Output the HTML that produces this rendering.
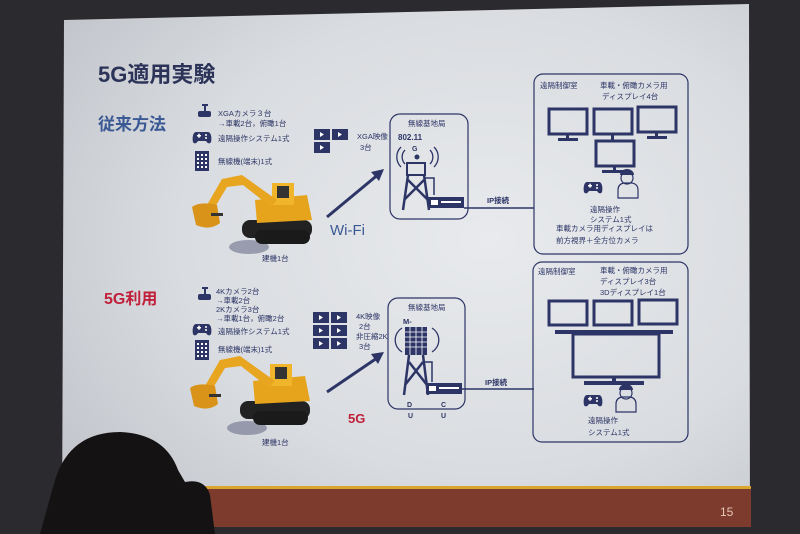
<!DOCTYPE html>
<html><head><meta charset="utf-8"><style>
html,body{margin:0;padding:0;width:800px;height:534px;overflow:hidden;background:#2b2a2e;}
svg{display:block}
text{font-family:"Liberation Sans","Noto Sans CJK JP",sans-serif;}
</style></head><body>
<svg width="800" height="534" viewBox="0 0 800 534" xmlns="http://www.w3.org/2000/svg">
<defs>
<radialGradient id="bg" cx="0.62" cy="0.45" r="0.75">
<stop offset="0" stop-color="#e8eaed"/><stop offset="0.6" stop-color="#d9dce0"/><stop offset="1" stop-color="#c2c5cb"/>
</radialGradient>
<g id="vid"><rect x="0" y="0" width="16" height="11" fill="#2d3566"/><polygon points="6,3 6,8 10,5.5" fill="#fff"/></g>
<g id="cam"><rect x="6" y="0" width="6" height="2" fill="#2d3566"/><rect x="8" y="2" width="2" height="5" fill="#2d3566"/><rect x="2" y="7" width="13" height="6" rx="2" fill="#2d3566"/></g>
<g id="pad"><path d="M3,2 h12 c3,0 4,6 3,10 c-1,2 -3,2 -5,-1 h-8 c-2,3 -4,3 -5,1 c-1,-4 0,-10 3,-10z" fill="#2d3566"/><rect x="4" y="5" width="4" height="1.5" fill="#fff"/><rect x="5.3" y="3.7" width="1.5" height="4" fill="#fff"/><circle cx="13" cy="5" r="1" fill="#fff"/><circle cx="13" cy="8" r="1" fill="#fff"/></g>
<g id="phone"><rect x="0" y="0" width="14" height="20" fill="#2d3566"/>
<g fill="#fff"><rect x="2" y="3" width="2" height="2"/><rect x="6" y="3" width="2" height="2"/><rect x="10" y="3" width="2" height="2"/><rect x="2" y="7" width="2" height="2"/><rect x="6" y="7" width="2" height="2"/><rect x="10" y="7" width="2" height="2"/><rect x="2" y="11" width="2" height="2"/><rect x="6" y="11" width="2" height="2"/><rect x="10" y="11" width="2" height="2"/><rect x="2" y="15" width="2" height="2"/><rect x="6" y="15" width="2" height="2"/><rect x="10" y="15" width="2" height="2"/></g></g>
<g id="exc">
<ellipse cx="62" cy="72" rx="20" ry="7" fill="#6a6f8a" opacity="0.6"/>
<rect x="55" y="45" width="70" height="18" rx="8" fill="#222"/>
<rect x="68" y="55" width="55" height="14" rx="7" fill="#1a1a1a"/>
<polygon points="68,25 120,20 125,45 70,48" fill="#e6a41d"/>
<rect x="85" y="8" width="22" height="22" fill="#f0b52a"/>
<rect x="90" y="11" width="12" height="12" fill="#333"/>
<polygon points="90,25 55,0 35,4 20,30 28,32 40,12 56,10 84,32" fill="#e8a520"/>
<path d="M5,32 q8,-6 25,-2 l3,18 q-10,8 -24,2z" fill="#d89318"/>
<rect x="24" y="38" width="12" height="3" fill="#333"/>
</g>
</defs>
<polygon points="64,20 749,4 750,527 62,527" fill="url(#bg)"/>
<rect x="62" y="486" width="689" height="3" fill="#d9a52e"/>
<rect x="62" y="489" width="689" height="38" fill="#7c3b2c"/>
<text x="720" y="516" font-size="12" fill="#e8c7b8">15</text>

<text x="98" y="82" font-size="22" font-weight="bold" fill="#2c3358">5G適用実験</text>
<text x="98" y="130" font-size="17" font-weight="bold" fill="#3b5a95">従来方法</text>
<text x="104" y="304" font-size="16" font-weight="bold" fill="#c0203a">5G利用</text>

<use href="#cam" x="196" y="104"/>
<text x="218" y="116" font-size="7.5" fill="#2d3566">XGAカメラ３台</text>
<text x="218" y="126" font-size="7.5" fill="#2d3566">→車載2台，俯瞰1台</text>
<use href="#pad" x="193" y="130"/>
<text x="218" y="141" font-size="7.5" fill="#2d3566">遠隔操作システム1式</text>
<use href="#phone" x="195" y="151"/>
<text x="218" y="164" font-size="7.5" fill="#2d3566">無線機(端末)1式</text>
<use href="#exc" x="187" y="175"/>
<text x="262" y="261" font-size="7.5" fill="#2d3566">建機1台</text>

<use href="#vid" x="314" y="129"/><use href="#vid" x="332" y="129"/><use href="#vid" x="314" y="142"/>
<text x="357" y="139" font-size="7.5" fill="#2d3566">XGA映像</text>
<text x="360" y="150" font-size="7.5" fill="#2d3566">3台</text>
<line x1="327" y1="217" x2="380" y2="173" stroke="#2d3566" stroke-width="3"/>
<polygon points="384,169 371,172 379,181" fill="#2d3566"/>
<text x="330" y="235" font-size="15" fill="#3b5a95">Wi-Fi</text>

<rect x="390" y="114" width="78" height="105" rx="10" fill="none" stroke="#2d3566" stroke-width="1.2"/>
<text x="408" y="126" font-size="7.5" fill="#2d3566">無線基地局</text>
<text x="398" y="140" font-size="8" font-weight="bold" fill="#2d3566">802.11</text>
<text x="412" y="151" font-size="7" font-weight="bold" fill="#2d3566">G</text>
<path d="M405,150 a10,10 0 0 0 0,14 M430,150 a10,10 0 0 1 0,14 M401,147 a14,14 0 0 0 0,20 M434,147 a14,14 0 0 1 0,20" stroke="#2d3566" stroke-width="1.3" fill="none"/>
<circle cx="417" cy="157" r="2.5" fill="#2d3566"/>
<rect x="407" y="163" width="18" height="12" fill="none" stroke="#2d3566" stroke-width="2"/>
<path d="M408,175 L403,210 M424,175 L429,210 M408,180 L428,200 M424,180 L404,200" stroke="#2d3566" stroke-width="2.5"/>
<path d="M425,178 h9 v17" stroke="#2d3566" stroke-width="1.5" fill="none"/>
<rect x="428" y="197" width="36" height="11" fill="#2d3566"/><rect x="431" y="200" width="7" height="5" fill="#fff"/><rect x="441" y="201" width="20" height="2" fill="#fff"/>
<line x1="464" y1="208" x2="534" y2="208" stroke="#2d3566" stroke-width="1.5"/>
<text x="487" y="203" font-size="7.5" font-weight="bold" fill="#2d3566">IP接続</text>

<rect x="534" y="74" width="154" height="180" rx="9" fill="none" stroke="#2d3566" stroke-width="1.2"/>
<text x="540" y="88" font-size="7.5" fill="#2d3566">遠隔制御室</text>
<text x="600" y="88" font-size="7.5" fill="#2d3566">車載・俯瞰カメラ用</text>
<text x="602" y="99" font-size="7.5" fill="#2d3566">ディスプレイ4台</text>
<g fill="none" stroke="#2d3566" stroke-width="3">
<rect x="549" y="109" width="38" height="25"/><rect x="594" y="109" width="38" height="25"/><rect x="638" y="107" width="38" height="25"/>
<rect x="596" y="141" width="38" height="25"/></g>
<g fill="#2d3566"><rect x="566" y="134" width="3" height="5"/><rect x="558" y="138" width="20" height="3"/><rect x="655" y="132" width="3" height="5"/><rect x="647" y="136" width="20" height="3"/><rect x="613" y="166" width="3" height="5"/><rect x="602" y="170" width="26" height="3"/><rect x="611" y="134" width="3" height="7"/></g>
<use href="#pad" x="584" y="180"/>
<path d="M618,198 v-8 q0,-6 6,-7 l8,0 q6,1 6,7 v8z" fill="none" stroke="#2d3566" stroke-width="1.2"/>
<circle cx="627" cy="178" r="6" fill="none" stroke="#2d3566" stroke-width="1.2"/><path d="M620,175 a7,6 0 0 1 14,0z" fill="#2d3566"/>
<text x="590" y="212" font-size="7.5" fill="#2d3566">遠隔操作</text>
<text x="590" y="222" font-size="7.5" fill="#2d3566">システム1式</text>
<text x="556" y="231" font-size="7.5" fill="#2d3566">車載カメラ用ディスプレイは</text>
<text x="556" y="243" font-size="7.5" fill="#2d3566">前方視界＋全方位カメラ</text>

<use href="#cam" x="196" y="287"/>
<text x="216" y="294" font-size="7.5" fill="#2d3566">4Kカメラ2台</text>
<text x="216" y="303" font-size="7.5" fill="#2d3566">→車載2台</text>
<text x="216" y="312" font-size="7.5" fill="#2d3566">2Kカメラ3台</text>
<text x="216" y="321" font-size="7.5" fill="#2d3566">→車載1台，俯瞰2台</text>
<use href="#pad" x="193" y="322"/>
<text x="218" y="334" font-size="7.5" fill="#2d3566">遠隔操作システム1式</text>
<use href="#phone" x="195" y="340"/>
<text x="218" y="352" font-size="7.5" fill="#2d3566">無線機(端末)1式</text>
<use href="#exc" x="185" y="356"/>
<text x="262" y="445" font-size="7.5" fill="#2d3566">建機1台</text>

<use href="#vid" x="313" y="312"/><use href="#vid" x="331" y="312"/><use href="#vid" x="313" y="325"/><use href="#vid" x="331" y="325"/><use href="#vid" x="313" y="338"/><use href="#vid" x="331" y="338"/>
<text x="356" y="319" font-size="7.5" fill="#2d3566">4K映像</text>
<text x="359" y="329" font-size="7.5" fill="#2d3566">2台</text>
<text x="356" y="339" font-size="7.5" fill="#2d3566">非圧縮2K</text>
<text x="359" y="349" font-size="7.5" fill="#2d3566">3台</text>
<line x1="327" y1="392" x2="380" y2="356" stroke="#2d3566" stroke-width="3"/>
<polygon points="384,352 371,354 378,364" fill="#2d3566"/>
<text x="348" y="423" font-size="13" font-weight="bold" fill="#c0203a">5G</text>

<rect x="388" y="298" width="77" height="111" rx="10" fill="none" stroke="#2d3566" stroke-width="1.2"/>
<text x="408" y="310" font-size="7.5" fill="#2d3566">無線基地局</text>
<text x="403" y="324" font-size="7.5" font-weight="bold" fill="#2d3566">M-</text>
<path d="M402,328 a14,14 0 0 0 0,24 M432,328 a14,14 0 0 1 0,24" stroke="#2d3566" stroke-width="1.3" fill="none"/>
<rect x="405" y="327" width="22" height="28" fill="#2d3566"/>
<g stroke="#fff" stroke-width="0.8"><line x1="405" y1="332" x2="427" y2="332"/><line x1="405" y1="337" x2="427" y2="337"/><line x1="405" y1="342" x2="427" y2="342"/><line x1="405" y1="347" x2="427" y2="347"/><line x1="410" y1="327" x2="410" y2="355"/><line x1="416" y1="327" x2="416" y2="355"/><line x1="422" y1="327" x2="422" y2="355"/></g>
<path d="M409,355 L404,395 M423,355 L428,395 M409,362 L427,385 M423,362 L405,385" stroke="#2d3566" stroke-width="2.5"/>
<path d="M424,362 h8 v20" stroke="#2d3566" stroke-width="1.5" fill="none"/>
<rect x="426" y="383" width="36" height="11" fill="#2d3566"/><rect x="429" y="386" width="7" height="5" fill="#fff"/><rect x="439" y="387" width="20" height="2" fill="#fff"/>
<text x="407" y="407" font-size="7" font-weight="bold" fill="#2d3566">D</text>
<text x="408" y="418" font-size="7" font-weight="bold" fill="#2d3566">U</text>
<text x="441" y="407" font-size="7" font-weight="bold" fill="#2d3566">C</text>
<text x="441" y="418" font-size="7" font-weight="bold" fill="#2d3566">U</text>
<line x1="462" y1="389" x2="534" y2="389" stroke="#2d3566" stroke-width="1.5"/>
<text x="485" y="385" font-size="7.5" font-weight="bold" fill="#2d3566">IP接続</text>

<rect x="533" y="262" width="155" height="180" rx="9" fill="none" stroke="#2d3566" stroke-width="1.2"/>
<text x="538" y="274" font-size="7.5" fill="#2d3566">遠隔制御室</text>
<text x="600" y="273" font-size="7.5" fill="#2d3566">車載・俯瞰カメラ用</text>
<text x="600" y="284" font-size="7.5" fill="#2d3566">ディスプレイ3台</text>
<text x="600" y="295" font-size="7.5" fill="#2d3566">3Dディスプレイ1台</text>
<g fill="none" stroke="#2d3566" stroke-width="3">
<rect x="549" y="301" width="38" height="24"/><rect x="594" y="301" width="38" height="24"/><rect x="639" y="300" width="38" height="24"/>
<rect x="573" y="334" width="86" height="43"/></g>
<g fill="#2d3566"><rect x="555" y="330" width="118" height="4"/><rect x="612" y="377" width="4" height="6"/><rect x="584" y="381" width="60" height="4"/></g>
<use href="#pad" x="584" y="393"/>
<path d="M616,412 v-8 q0,-6 6,-7 l8,0 q6,1 6,7 v8z" fill="none" stroke="#2d3566" stroke-width="1.2"/>
<circle cx="626" cy="393" r="6" fill="none" stroke="#2d3566" stroke-width="1.2"/><path d="M619,390 a7,6 0 0 1 14,0z" fill="#2d3566"/>
<text x="588" y="423" font-size="7.5" fill="#2d3566">遠隔操作</text>
<text x="588" y="435" font-size="7.5" fill="#2d3566">システム1式</text>

<path d="M40,534 L55,480 Q70,432 120,432 Q165,434 178,470 L185,482 Q205,478 210,495 L215,534 Z" fill="#141213"/>
</svg>
</body></html>
